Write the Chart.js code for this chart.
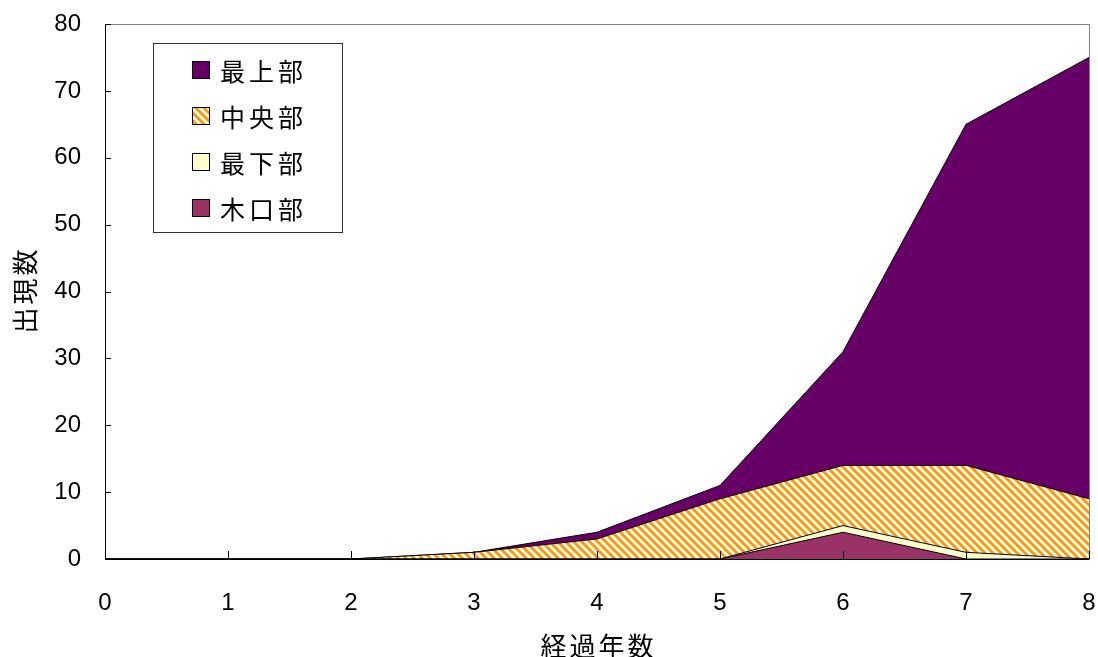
<!DOCTYPE html>
<html>
<head>
<meta charset="utf-8">
<script src="https://cdn.jsdelivr.net/npm/chart.js@4.4.1/dist/chart.umd.min.js"></script>
<style>
  body { margin: 0; background: #fff; }
</style>
</head>
<body>
<canvas id="chart" width="1098" height="657"></canvas>
<script>
// 経過年数ごとの出現数（積み上げ）
const years = ['0', '1', '2', '3', '4', '5', '6', '7', '8'];
const koguchi = [0, 0, 0, 0, 0, 0, 4, 0, 0];   // 木口部
const saika = [0, 0, 0, 0, 0, 0, 1, 1, 0];     // 最下部
const chuou = [0, 0, 0, 1, 3, 9, 9, 13, 9];    // 中央部
const saijou = [0, 0, 0, 0, 1, 2, 17, 51, 66]; // 最上部

const xTitle = '経過年数';
const yTitle = '出現数';

const jpFont = '"Noto Sans CJK JP", sans-serif';
const numFont = '"Liberation Sans", Arial, sans-serif';

const canvas = document.getElementById('chart');
const ctx = canvas.getContext('2d');

// orange diagonal hatch for 中央部
function makeHatch() {
    const c = document.createElement('canvas');
    c.width = 8;
    c.height = 8;
    const g = c.getContext('2d');
    g.fillStyle = '#fff';
    g.fillRect(0, 0, 8, 8);
    g.strokeStyle = '#FF9900';
    g.lineWidth = 3;
    g.beginPath();
    g.moveTo(-4, -12); g.lineTo(12, 4);
    g.moveTo(-4, -4); g.lineTo(12, 12);
    g.moveTo(-4, 4); g.lineTo(12, 20);
    g.stroke();
    return ctx.createPattern(c, 'repeat');
}
const hatch = makeHatch();

const series = [
    { label: '木口部', data: koguchi, color: '#993366' },
    { label: '最下部', data: saika, color: '#FFFFCC' },
    { label: '中央部', data: chuou, color: hatch },
    { label: '最上部', data: saijou, color: '#660066' },
];

// frame, inner tick marks, axis titles and the boxed legend
const decorations = {
    id: 'decorations',
    afterDatasetsDraw(chart) {
        const { ctx, chartArea: a, scales: { x, y } } = chart;
        ctx.save();
        ctx.lineWidth = 1;
        ctx.strokeStyle = '#808080';
        ctx.strokeRect(Math.round(a.left) + 0.5, Math.round(a.top) + 0.5,
            Math.round(a.right - a.left), Math.round(a.bottom - a.top));

        ctx.strokeStyle = '#000';
        ctx.beginPath();
        y.ticks.forEach(t => {
            const py = Math.round(y.getPixelForValue(t.value)) + 0.5;
            ctx.moveTo(a.left, py);
            ctx.lineTo(a.left + 6, py);
        });
        years.forEach((_, i) => {
            const px = Math.round(x.getPixelForValue(i)) + 0.5;
            ctx.moveTo(px, a.bottom);
            ctx.lineTo(px, a.bottom - 8);
        });
        ctx.moveTo(Math.round(a.left) + 0.5, a.top);
        ctx.lineTo(Math.round(a.left) + 0.5, a.bottom);
        ctx.moveTo(a.left, Math.round(a.bottom) + 0.5);
        ctx.lineTo(a.right, Math.round(a.bottom) + 0.5);
        ctx.stroke();

        // axis titles
        ctx.fillStyle = '#000';
        ctx.font = '26px ' + jpFont;
        ctx.textAlign = 'center';
        ctx.textBaseline = 'middle';
        ctx.letterSpacing = '3px';
        ctx.fillText(xTitle, (a.left + a.right) / 2 + 1.5, a.bottom + 87);
        ctx.save();
        ctx.translate(25, (a.top + a.bottom) / 2);
        ctx.rotate(-Math.PI / 2);
        ctx.fillText(yTitle, 1.5, 0);
        ctx.restore();

        // legend box
        const lx = 153, ly = 43, lw = 189, lh = 189;
        ctx.fillStyle = '#fff';
        ctx.fillRect(lx, ly, lw, lh);
        ctx.strokeStyle = '#333';
        ctx.strokeRect(lx + 0.5, ly + 0.5, lw, lh);
        ctx.font = '25px ' + jpFont;
        ctx.textAlign = 'left';
        ctx.letterSpacing = '4px';
        const items = series.slice().reverse();
        items.forEach((s, i) => {
            const cy = ly + 27 + i * 46;
            ctx.fillStyle = s.color;
            ctx.fillRect(192, cy - 9, 18, 18);
            ctx.strokeStyle = '#000';
            ctx.strokeRect(192.5, cy - 8.5, 17, 17);
            ctx.fillStyle = '#000';
            ctx.fillText(s.label, 220, cy + 1);
        });
        ctx.restore();
    }
};

new Chart(canvas, {
    type: 'line',
    data: {
        labels: years,
        datasets: series.map((s, i) => ({
            label: s.label,
            data: s.data,
            backgroundColor: s.color,
            borderColor: '#000',
            borderWidth: 1,
            pointRadius: 0,
            tension: 0,
            fill: i === 0 ? 'origin' : '-1',
        })),
    },
    options: {
        responsive: false,
        animation: false,
        layout: { padding: { top: 24, right: 9, left: 0, bottom: 0 } },
        plugins: {
            legend: { display: false },
            tooltip: { enabled: false },
        },
        scales: {
            x: {
                type: 'category',
                offset: false,
                grid: { display: false, drawTicks: false },
                border: { display: false },
                ticks: {
                    color: '#000',
                    font: { family: numFont, size: 24 },
                    padding: 30,
                    maxRotation: 0,
                    autoSkip: false,
                },
                afterFit(scale) {
                    scale.height = 98;
                    scale.paddingLeft = 0;
                    scale.paddingRight = 0;
                },
            },
            y: {
                stacked: true,
                min: 0,
                max: 80,
                grid: { display: false, drawTicks: false },
                border: { display: false },
                ticks: {
                    stepSize: 10,
                    color: '#000',
                    font: { family: numFont, size: 24 },
                    padding: 24,
                },
                afterFit(scale) {
                    scale.width = 105;
                    scale.paddingTop = 0;
                    scale.paddingBottom = 0;
                },
            },
        },
    },
    plugins: [decorations],
});
</script>
</body>
</html>
